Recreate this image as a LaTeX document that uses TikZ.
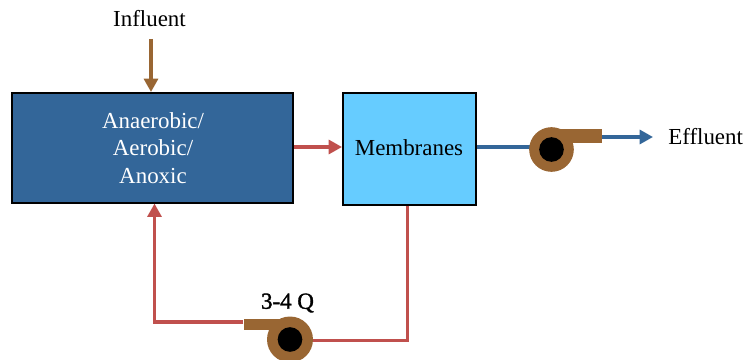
\documentclass[tikz,border=0pt]{standalone}
\usepackage{fontspec}
\setmainfont{Liberation Serif}
\newfontfamily\fakebold[FakeBold=1.5]{Liberation Serif}
\usetikzlibrary{arrows.meta}
\definecolor{tankblue}{HTML}{336699}
\definecolor{membblue}{HTML}{66CCFF}
\definecolor{pumpbrown}{HTML}{996633}
\definecolor{linered}{HTML}{C0504D}
\tikzset{
  procbox/.style={draw=black,line width=1.5pt,inner sep=0pt,anchor=north west},
  lbl/.style={font=\fontsize{17.2pt}{20.6pt}\selectfont,inner sep=0pt,text=black},
  flow/.style={line width=2.3pt},
  tip/.style={-{Triangle[length=10pt,width=10.5pt]}},
  pumpbody/.style={circle,fill=pumpbrown,minimum size=32pt,inner sep=0pt},
  pumpeye/.style={circle,fill=black,minimum size=18.5pt,inner sep=0pt},
  pumpspout/.style={fill=pumpbrown,inner sep=0pt}
}
\begin{document}
\begin{tikzpicture}[x=0.75pt,y=-0.75pt]
\useasboundingbox (0,0) rectangle (744,360);
% boxes
\node[procbox,fill=tankblue,minimum width=210.7pt,minimum height=82.2pt] (tank) at (11,92) {};
\node[lbl,text=white,align=center] (tanktext) at (153,148) {Anaerobic/\\Aerobic/\\Anoxic};
\node[procbox,fill=membblue,minimum width=100pt,minimum height=84pt] (memb) at (342,92) {};
\node[lbl] (membtext) at (409,148) {Membranes};
% labels
\node[lbl] (influent) at (149.5,19) {Influent};
\node[lbl,anchor=west] (effluent) at (668,137) {Effluent};
\node[lbl,font=\fontsize{17.2pt}{20.6pt}\fakebold] (q) at (287.5,303) {3-4 Q};
% free coordinates
\coordinate (infl) at (151,39);
\coordinate (effend) at (653,137);
\coordinate (corner1) at (407.5,340.5);
\coordinate (corner2) at (154.5,322);
% connectors under pumps
\draw[flow,pumpbrown,tip] (infl) -- (infl |- tank.north);
\draw[flow,linered,tip] (tank.east |- 0,147) -- (memb.west |- 0,147);
\draw[flow,tankblue] (memb.east |- 0,147) -- (531,147);
\draw[flow,tankblue,tip] (596,137) -- (effend);
% pump 1
\node[pumpbody,minimum size=0pt,minimum width=33.5pt,minimum height=31pt] (p1) at (551.5,149.5) {};
\node[pumpspout,minimum width=38pt,minimum height=10pt,anchor=north west] (s1) at (551.5,129) {};
\node[pumpeye] (e1) at (p1) {};
% pump 2
\node[pumpbody,minimum size=0pt,minimum width=34.5pt,minimum height=31pt] (p2) at (290,339.5) {};
\node[pumpspout,minimum width=34.5pt,minimum height=8pt,anchor=north east] (s2) at (290,319) {};
\node[pumpeye] (e2) at (p2) {};
% recycle line
\draw[flow,linered] (corner1 |- memb.south) -- (corner1) -- (p2.east |- corner1);
\draw[flow,linered,tip] (s2.west |- corner2) -- (corner2) -- (corner2 |- tank.south);
\end{tikzpicture}
\end{document}
